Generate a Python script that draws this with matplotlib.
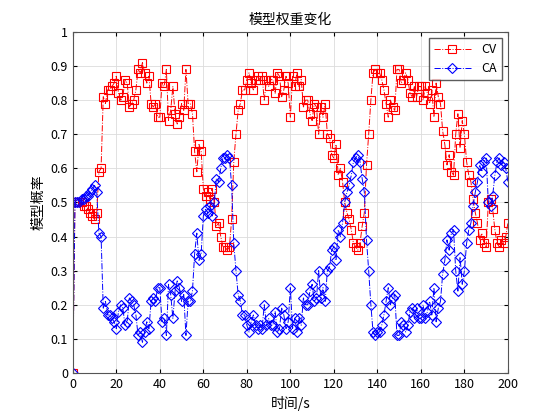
import matplotlib
matplotlib.use('Agg')
import matplotlib.pyplot as plt
import numpy as np

plt.rcParams['font.family'] = ['Noto Sans CJK SC', 'DejaVu Sans']

t = np.arange(0, 201)
cv = [0, 0.50,0.50,0.50,0.50,0.49, 0.49,0.48,0.47,0.46,0.45,0.47, 0.59,0.60,
0.81,0.79,0.83,0.83,0.84,0.85, 0.87,0.82,0.80,0.81,0.86,0.85,
0.78,0.79,0.80,0.83,0.89,0.88, 0.91,0.88,0.85,0.87,0.79,0.78,
0.79,0.75,0.75,0.85,0.84,0.89, 0.74,0.77,0.84,0.76,0.73,0.75,
0.79,0.77,0.89,0.79,0.79,0.76, 0.65,0.59,0.67,0.65,0.54,0.52,
0.53,0.51,0.54,0.50,0.43,0.44, 0.40,0.37,0.37,0.36,0.37,0.45,
0.62,0.70,0.77,0.79,0.83,0.83, 0.86,0.88,0.85,0.83,0.86,0.87,
0.86,0.87,0.80,0.86,0.84,0.86, 0.86,0.82,0.88,0.87,0.81,0.83,
0.87,0.85,0.75,0.87,0.84,0.88, 0.84,0.86,0.78,0.80,0.80,0.76,
0.74,0.79,0.78,0.70,0.78,0.75, 0.79,0.70,0.69,0.64,0.63,0.67,
0.58,0.60,0.56,0.50,0.47,0.45, 0.42,0.38,0.37,0.36,0.38,0.43,
0.47,0.61,0.70,0.80,0.88,0.89, 0.88,0.88,0.86,0.83,0.79,0.75,
0.80,0.78,0.77,0.89,0.89,0.85, 0.86,0.88,0.86,0.82,0.81,0.84,
0.81,0.84,0.84,0.80,0.84,0.82, 0.79,0.83,0.75,0.85,0.81,0.79,
0.71,0.67,0.61,0.64,0.59,0.58, 0.70,0.76,0.66,0.74,0.70,0.62,
0.58,0.56,0.51,0.47,0.44,0.39, 0.41,0.38,0.37,0.50,0.51,0.48,
0.42,0.38,0.37,0.39,0.38,0.40, 0.44]
ca = [0, 0.50,0.50,0.50,0.51,0.51, 0.52,0.52,0.53,0.54,0.55,0.53, 0.41,0.40,
0.19,0.21,0.17,0.17,0.16,0.15, 0.13,0.18,0.20,0.19,0.14,0.15,
0.22,0.21,0.20,0.17,0.11,0.12, 0.09,0.12,0.15,0.13,0.21,0.22,
0.21,0.25,0.25,0.15,0.16,0.11, 0.26,0.23,0.16,0.24,0.27,0.25,
0.21,0.23,0.11,0.21,0.21,0.24, 0.35,0.41,0.33,0.35,0.46,0.48,
0.47,0.49,0.46,0.50,0.57,0.56, 0.60,0.63,0.63,0.64,0.63,0.55,
0.38,0.30,0.23,0.21,0.17,0.17, 0.14,0.12,0.15,0.17,0.14,0.13,
0.14,0.13,0.20,0.14,0.16,0.14, 0.14,0.18,0.12,0.13,0.19,0.17,
0.13,0.15,0.25,0.13,0.16,0.12, 0.16,0.14,0.22,0.20,0.20,0.24,
0.26,0.21,0.22,0.30,0.22,0.25, 0.21,0.30,0.31,0.36,0.37,0.33,
0.42,0.40,0.44,0.50,0.53,0.55, 0.58,0.62,0.63,0.64,0.62,0.57,
0.53,0.39,0.30,0.20,0.12,0.11, 0.12,0.12,0.14,0.17,0.21,0.25,
0.20,0.22,0.23,0.11,0.11,0.15, 0.14,0.12,0.14,0.18,0.19,0.16,
0.19,0.16,0.16,0.20,0.16,0.18, 0.21,0.17,0.25,0.15,0.19,0.21,
0.29,0.33,0.39,0.36,0.41,0.42, 0.30,0.24,0.34,0.26,0.30,0.38,
0.42,0.44,0.49,0.53,0.56,0.61, 0.59,0.62,0.63,0.50,0.49,0.52,
0.58,0.62,0.63,0.61,0.62,0.60, 0.56]

fig = plt.figure(figsize=(5.6, 4.2), dpi=100)
ax = fig.add_axes([0.13, 0.112, 0.777, 0.812])
ax.plot(t, cv, 'r-.', marker='s', mfc='none', ms=5.5, lw=0.7, mew=0.8, label='CV')
ax.plot(t, ca, 'b-.', marker='D', mfc='none', ms=5, lw=0.7, mew=0.8, label='CA')
ax.set_xlim(0, 200)
ax.set_ylim(0, 1)
ax.set_xticks(np.arange(0, 201, 20))
ax.set_yticks(np.arange(0, 1.01, 0.1))
ax.set_yticklabels(['0', '0.1', '0.2', '0.3', '0.4', '0.5', '0.6', '0.7', '0.8', '0.9', '1'])
ax.grid(True, color='#dcdcdc', lw=0.6)
ax.tick_params(direction='in', labelsize=9, top=True, right=True, length=3)
for s in ax.spines.values():
    s.set_color('#555555')
ax.set_title('模型权重变化', fontsize=10)
ax.set_xlabel('时间/s', fontsize=10)
ax.set_ylabel('模型概率', fontsize=10)
leg = ax.legend(loc='upper right', fontsize=9, fancybox=False, edgecolor='#333333', handlelength=3)
fig.savefig('out.png', dpi=100)
